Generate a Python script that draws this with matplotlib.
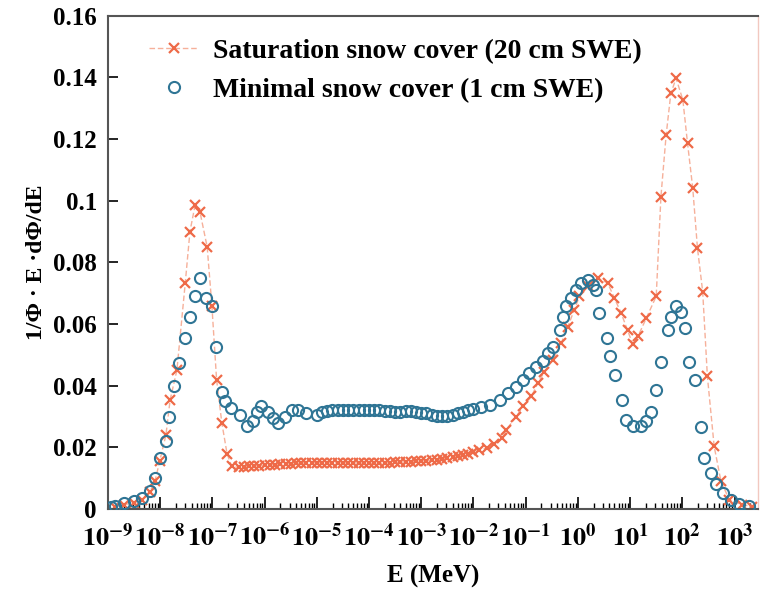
import numpy as np
import matplotlib
matplotlib.use("Agg")
import matplotlib.pyplot as plt
from matplotlib.ticker import LogLocator, FuncFormatter, NullFormatter

# Minimal snow cover (1 cm SWE): log10(E/MeV) and normalised lethargy spectrum
log_e_min = [-8.95, -8.86, -8.70, -8.51, -8.35, -8.20, -8.10, -8.01, -7.89, -7.83,
             -7.73, -7.64, -7.52, -7.43, -7.33, -7.24, -7.12, -7.01, -6.94, -6.82,
             -6.76, -6.65, -6.47, -6.34, -6.23, -6.15, -6.06, -5.93, -5.83, -5.74,
             -5.61, -5.48, -5.36, -5.20, -5.00, -4.90, -4.80, -4.70, -4.60, -4.50,
             -4.40, -4.30, -4.20, -4.10, -4.00, -3.90, -3.80, -3.70, -3.60, -3.50,
             -3.40, -3.30, -3.20, -3.10, -3.00, -2.90, -2.80, -2.70, -2.60, -2.50,
             -2.40, -2.30, -2.20, -2.10, -2.00, -1.85, -1.69, -1.50, -1.34, -1.18,
             -1.05, -0.93, -0.80, -0.67, -0.58, -0.48, -0.35, -0.29, -0.22, -0.13,
             -0.03, 0.06, 0.19, 0.28, 0.34, 0.40, 0.55, 0.62, 0.71, 0.84,
             0.93, 1.05, 1.20, 1.30, 1.40, 1.50, 1.59, 1.72, 1.78, 1.88,
             1.97, 2.06, 2.13, 2.25, 2.35, 2.42, 2.55, 2.65, 2.77, 2.93,
             3.09, 3.28]
phi_min = [0.0007, 0.0010, 0.0020, 0.0025, 0.0036, 0.0057, 0.0100, 0.0165, 0.0220, 0.0300,
           0.0400, 0.0475, 0.0556, 0.0624, 0.0690, 0.0749, 0.0684, 0.0659, 0.0527, 0.0381,
           0.0349, 0.0327, 0.0306, 0.0268, 0.0287, 0.0316, 0.0333, 0.0316, 0.0295, 0.0279,
           0.0300, 0.0322, 0.0322, 0.0311, 0.0306, 0.0316, 0.0318, 0.0320, 0.0320, 0.0320,
           0.0320, 0.0320, 0.0320, 0.0320, 0.0320, 0.0320, 0.0320, 0.0318, 0.0318, 0.0316,
           0.0316, 0.0318, 0.0318, 0.0316, 0.0313, 0.0310, 0.0306, 0.0303, 0.0301, 0.0303,
           0.0306, 0.0310, 0.0316, 0.0322, 0.0326, 0.0330, 0.0336, 0.0354, 0.0376, 0.0397,
           0.0420, 0.0440, 0.0460, 0.0480, 0.0506, 0.0527, 0.0580, 0.0624, 0.0657, 0.0684,
           0.0711, 0.0733, 0.0743, 0.0727, 0.0711, 0.0635, 0.0554, 0.0497, 0.0435, 0.0354,
           0.0290, 0.0268, 0.0268, 0.0284, 0.0316, 0.0387, 0.0476, 0.0580, 0.0624, 0.0660,
           0.0640, 0.0587, 0.0476, 0.0417, 0.0265, 0.0165, 0.0117, 0.0080, 0.0052, 0.0030,
           0.0017, 0.0010]

# Saturation snow cover (20 cm SWE)
log_e_sat = [-8.86, -8.70, -8.51, -8.35, -8.20, -8.10, -8.01, -7.89, -7.81, -7.68,
             -7.52, -7.43, -7.33, -7.24, -7.10, -7.01, -6.92, -6.82, -6.72, -6.63,
             -6.50, -6.40, -6.30, -6.20, -6.10, -6.00, -5.90, -5.80, -5.70, -5.60,
             -5.50, -5.40, -5.30, -5.20, -5.10, -5.00, -4.90, -4.80, -4.70, -4.60,
             -4.50, -4.40, -4.30, -4.20, -4.10, -4.00, -3.90, -3.80, -3.70, -3.60,
             -3.50, -3.40, -3.30, -3.20, -3.10, -3.00, -2.90, -2.80, -2.70, -2.60,
             -2.50, -2.40, -2.30, -2.20, -2.10, -2.00, -1.90, -1.75, -1.60, -1.45,
             -1.37, -1.18, -1.05, -0.89, -0.77, -0.64, -0.48, -0.32, -0.19, -0.07,
             0.03, 0.19, 0.38, 0.57, 0.70, 0.83, 0.95, 1.05, 1.15, 1.31,
             1.50, 1.59, 1.69, 1.78, 1.88, 2.01, 2.10, 2.20, 2.29, 2.39,
             2.48, 2.61, 2.74, 2.90, 3.15, 3.34]
phi_sat = [0.0008, 0.0014, 0.0020, 0.0030, 0.0055, 0.0090, 0.0155, 0.0240, 0.0354, 0.0450,
           0.0733, 0.0900, 0.0987, 0.0965, 0.0850, 0.0660, 0.0420, 0.0280, 0.0180, 0.0138,
           0.0135, 0.0136, 0.0138, 0.0140, 0.0141, 0.0142, 0.0143, 0.0144, 0.0145, 0.0146,
           0.0147, 0.0148, 0.0149, 0.0150, 0.0150, 0.0150, 0.0150, 0.0150, 0.0150, 0.0150,
           0.0150, 0.0150, 0.0150, 0.0149, 0.0149, 0.0148, 0.0148, 0.0148, 0.0149, 0.0150,
           0.0151, 0.0152, 0.0153, 0.0154, 0.0155, 0.0156, 0.0157, 0.0158, 0.0160, 0.0162,
           0.0165, 0.0168, 0.0172, 0.0176, 0.0180, 0.0185, 0.0190, 0.0198, 0.0210, 0.0230,
           0.0257, 0.0300, 0.0333, 0.0365, 0.0408, 0.0446, 0.0484, 0.0538, 0.0592, 0.0646,
           0.0690, 0.0722, 0.0749, 0.0733, 0.0684, 0.0635, 0.0580, 0.0535, 0.0560, 0.0619,
           0.0690, 0.1013, 0.1213, 0.1348, 0.1397, 0.1327, 0.1186, 0.1040, 0.0846, 0.0705,
           0.0430, 0.0203, 0.0090, 0.0030, 0.0014, 0.0008]

e_min = 10.0 ** np.array(log_e_min)
e_sat = 10.0 ** np.array(log_e_sat)

plt.rcParams['font.family'] = ['Liberation Serif', 'DejaVu Serif']
plt.rcParams['font.weight'] = 'bold'
plt.rcParams['axes.labelweight'] = 'bold'
plt.rcParams['mathtext.fontset'] = 'stix'
plt.rcParams['mathtext.default'] = 'bf'

fig = plt.figure(figsize=(7.62, 5.91), dpi=100)
ax = fig.add_axes([0.1417, 0.1387, 0.8531, 0.8347])

ax.plot(e_sat, phi_sat, linestyle=(0, (4, 2)), color='#f6b09a', linewidth=1.0,
        marker='x', markersize=6.5, markeredgewidth=1.6, markeredgecolor='#ee6a48',
        label='Saturation snow cover (20 cm SWE)', zorder=2)
ax.plot(e_min, phi_min, linestyle='none', marker='o', markersize=8,
        markerfacecolor='none', markeredgewidth=1.5, markeredgecolor='#2f7595',
        label='Minimal snow cover (1 cm SWE)', zorder=3)

ax.set_xscale('log')
ax.set_xlim(1e-9, 10 ** 3.45)
ax.set_ylim(0, 0.16)
ax.set_yticks(np.arange(0, 0.161, 0.02))
ax.yaxis.set_major_formatter(FuncFormatter(lambda v, p: '%g' % round(v, 3)))

ax.xaxis.set_major_locator(LogLocator(base=10, numticks=20))
ax.xaxis.set_minor_locator(LogLocator(base=10, subs=np.arange(2, 10), numticks=20))
ax.xaxis.set_minor_formatter(NullFormatter())
ax.xaxis.set_major_formatter(FuncFormatter(lambda v, p: r'$10^{%d}$' % round(np.log10(v))))

ax.tick_params(axis='x', which='major', direction='in', length=9, width=1.2,
               labelsize=19, pad=10, top=False)
ax.tick_params(axis='x', which='minor', direction='in', length=4.5, width=1.0, top=False)
ax.tick_params(axis='y', which='major', direction='in', length=7, width=1.2,
               labelsize=18, pad=8, right=False)

for side in ['left', 'bottom', 'top']:
    ax.spines[side].set_color('#555555')
    ax.spines[side].set_linewidth(1.5)
ax.spines['right'].set_color('#f2c8c0')
ax.spines['right'].set_linewidth(1.0)

ax.set_xlabel('E (MeV)', fontsize=18, labelpad=10)
ax.set_ylabel('1/Φ · E ·dΦ/dE', fontsize=17, labelpad=4)

ax.legend(loc='upper left', bbox_to_anchor=(0.025, 1.005), frameon=False,
          prop={'size': 20, 'weight': 'bold'}, handlelength=1.8,
          handletextpad=0.5, labelspacing=0.5)

fig.savefig('out.png', dpi=100)
